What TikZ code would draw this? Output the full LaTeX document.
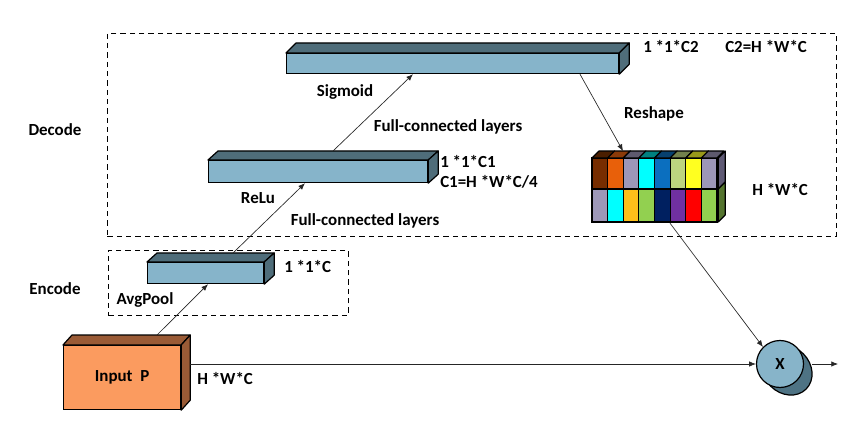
\documentclass[tikz,border=0pt]{standalone}
\usepackage{fontspec}
\setmainfont{Carlito}
\usetikzlibrary{calc,arrows.meta}
\definecolor{barF}{HTML}{86B4CA}
\definecolor{barD}{HTML}{4F6D7A}
\definecolor{inF}{HTML}{FB9B5F}
\definecolor{inD}{HTML}{9A5B36}
\definecolor{cirF}{HTML}{87B4C9}
\definecolor{cirD}{HTML}{4E7384}
\definecolor{cA}{HTML}{772D00}
\definecolor{cB}{HTML}{E8600A}
\definecolor{cC}{HTML}{9D97B8}
\definecolor{cD}{HTML}{00FFFF}
\definecolor{cE}{HTML}{0B6FBF}
\definecolor{cF}{HTML}{BDD47F}
\definecolor{cG}{HTML}{FFFF20}
\definecolor{cH}{HTML}{FFC01A}
\definecolor{cI}{HTML}{92D050}
\definecolor{cJ}{HTML}{002060}
\definecolor{cK}{HTML}{7030A0}
\definecolor{cL}{HTML}{FF0000}
\definecolor{tA}{HTML}{4A1E00}
\definecolor{tB}{HTML}{8B3A08}
\definecolor{tC}{HTML}{5E5A6E}
\definecolor{tD}{HTML}{008080}
\definecolor{tE}{HTML}{07406F}
\definecolor{tF}{HTML}{72804C}
\definecolor{tG}{HTML}{99991A}
\definecolor{sU}{HTML}{5F5A75}
\definecolor{sL}{HTML}{55752F}
\begin{document}
\begin{tikzpicture}[x=0.75pt,y=-0.75pt,
  font=\fontsize{12.7}{15}\selectfont\bfseries,
  face/.style={draw=black, line width=0.9pt, inner sep=0pt, anchor=north west},
  side/.style={draw=black, line width=0.9pt, line join=round},
  conn/.style={draw=black!85, line width=0.5pt, -{Latex[length=5pt,width=4pt]}},
  dbox/.style={draw=black, line width=0.7pt, dash pattern=on 4pt off 3pt, inner sep=0pt, anchor=north west},
  lbl/.style={inner sep=0pt},
  cell/.style={draw=black, line width=0.9pt}]
\useasboundingbox (0,0) rectangle (868,424);

% dashed boxes
\node[dbox, minimum width=729*0.75pt, minimum height=203*0.75pt] (dec) at (107,33) {};
\node[dbox, minimum width=240*0.75pt, minimum height=65*0.75pt] (enc) at (108,250) {};

% top bar
\node[face, fill=barF, minimum width=332*0.75pt, minimum height=20*0.75pt] (T) at (286,53) {};
\draw[side, fill=barD] (T.north west) -- ++(10,-10) -- ($(T.north east)+(10,-10)$) -- (T.north east) -- cycle;
\draw[side, fill=barD] (T.north east) -- ++(10,-10) -- ($(T.south east)+(10,-10)$) -- (T.south east) -- cycle;

% middle bar
\node[face, fill=barF, minimum width=219*0.75pt, minimum height=22*0.75pt] (B) at (208,160) {};
\draw[side, fill=barD] (B.north west) -- ++(10,-9) -- ($(B.north east)+(10,-9)$) -- (B.north east) -- cycle;
\draw[side, fill=barD] (B.north east) -- ++(10,-9) -- ($(B.south east)+(10,-9)$) -- (B.south east) -- cycle;

% avgpool bar
\node[face, fill=barF, minimum width=116*0.75pt, minimum height=21*0.75pt] (A) at (147,262) {};
\draw[side, fill=barD] (A.north west) -- ++(10,-9) -- ($(A.north east)+(10,-9)$) -- (A.north east) -- cycle;
\draw[side, fill=barD] (A.north east) -- ++(10,-9) -- ($(A.south east)+(10,-9)$) -- (A.south east) -- cycle;

% input P
\node[face, fill=inF, minimum width=117*0.75pt, minimum height=64*0.75pt] (P) at (63,345) {Input~ P};
\draw[side, fill=inD] (P.north west) -- ++(9,-10) -- ($(P.north east)+(9,-10)$) -- (P.north east) -- cycle;
\draw[side, fill=inD] (P.north east) -- ++(9,-10) -- ($(P.south east)+(9,-10)$) -- (P.south east) -- cycle;

% reshaped matrix
\node[face, minimum width=125*0.75pt, minimum height=64*0.75pt] (M) at (592,158) {};
\foreach \c [count=\i from 0] in {cA,cB,cC,cD,cE,cF,cG,cC}
  \draw[cell, fill=\c] ($(M.north west)+(\i*15.625,0)$) rectangle ++(15.625,31);
\foreach \c [count=\i from 0] in {cC,cD,cH,cI,cJ,cK,cL,cI}
  \draw[cell, fill=\c] ($(M.north west)+(\i*15.625,31)$) rectangle ++(15.625,33);
\foreach \c [count=\i from 0] in {tA,tB,tC,tD,tE,tF,tG,tC}
  \draw[side, fill=\c] ($(M.north west)+(\i*15.625,0)$) -- ++(7,-7) -- ++(15.625,0) -- ++(-7,7) -- cycle;
\draw[side, fill=sU] (M.north east) -- ++(7,-7) -- ++(0,31) -- ++(-7,7) -- cycle;
\draw[side, fill=sL] ($(M.north east)+(0,31)$) -- ++(7,-7) -- ++(0,33) -- ++(-7,7) -- cycle;

% multiply node
\draw[side, fill=cirD, rotate around={-45:(787,370)}] (787,370) ellipse [x radius=27, y radius=23];
\node[circle, draw=black, line width=0.9pt, fill=cirF, minimum size=47*0.75pt, inner sep=0pt] (mul) at (780,364) {X};
\coordinate (out) at (838,364);

% connectors
\draw[conn] ($(P.north west)+(94,-10)$) -- ($(A.south west)+(61,0)$);
\draw[conn] ($(A.north west)+(86,-9)$) -- ($(B.south west)+(97,0)$);
\draw[conn] ($(B.north west)+(125,-9)$) -- ($(T.south west)+(127,0)$);
\draw[conn] ($(T.south west)+(294,0)$) -- ($(M.north west)+(31,-7)$);
\draw[conn] ($(M.south west)+(78,0)$) -- (mul.135);
\draw[conn] ($(P.north east)+(9,19)$) -- (mul.west);
\draw[conn] ($(mul.east)+(8,0)$) -- (out);

% labels
\node[lbl, anchor=west] (l1) at (643,47) {1 *1*C2};
\node[lbl, anchor=west] (l2) at (725,47) {C2=H *W*C};
\node[lbl] (l3) at (345,92) {Sigmoid};
\node[lbl] (l4) at (654,114) {Reshape};
\node[lbl] (l5) at (448,127) {Full-connected layers};
\node[lbl, anchor=west] (l6) at (440,162) {1 *1*C1};
\node[lbl, anchor=west] (l7) at (440,182) {C1=H *W*C/4};
\node[lbl] (l8) at (258,198) {ReLu};
\node[lbl] (l9) at (365,221) {Full-connected layers};
\node[lbl, anchor=west] (l10) at (752,190) {H *W*C};
\node[lbl, anchor=west] (l11) at (284,267) {1 *1*C};
\node[lbl] (l12) at (145,300) {AvgPool};
\node[lbl] (l13) at (55,130) {Decode};
\node[lbl] (l14) at (55,289) {Encode};
\node[lbl, anchor=west] (l15) at (197,378) {H *W*C};
\end{tikzpicture}
\end{document}
